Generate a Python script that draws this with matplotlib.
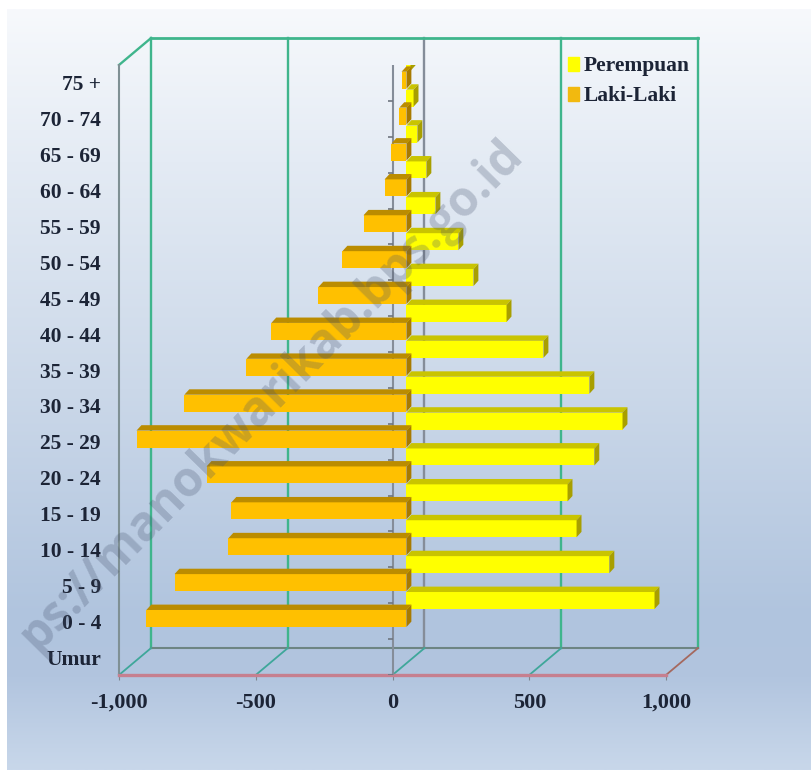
import numpy as np
import matplotlib
matplotlib.use("Agg")
import matplotlib.pyplot as plt
from matplotlib.patches import Patch

# umur dari bawah ke atas
umur = ["Umur", "0 - 4", "5 - 9", "10 - 14", "15 - 19", "20 - 24", "25 - 29", "30 - 34", "35 - 39",
        "40 - 44", "45 - 49", "50 - 54", "55 - 59", "60 - 64", "65 - 69", "70 - 74", "75 +"]
laki = [-951, -848, -651, -640, -731, -987, -812, -585, -494, -322, -234, -157, -80, -55, -26, -18]
perempuan = [907, 742, 622, 589, 687, 790, 669, 501, 366, 245, 190, 106, 73, 40, 26, 15]
x_ticks = [-1000, -500, 0, 500, 1000]
x_labels = ["-1,000", "-500", "0", "500", "1,000"]

W, H = 812, 770
FONT = "Liberation Serif"
TEKS = "#1c2436"

# kedalaman dinding belakang dan balok, dalam satuan data
WALL_X, WALL_Y = 117, 0.75
BASE_X = 51
BAR_X, BAR_Y = 18, 0.15
BAR_H = 0.474

fig = plt.figure(figsize=(W / 100, H / 100), dpi=100, facecolor="white")

# latar gradasi
bg = fig.add_axes([7 / W, 0, 1 - 7 / W, 1 - 9 / H], zorder=0)
stops_y = [0, 0.2, 0.5, 0.8, 0.88, 1]
stops_c = np.array([[247, 249, 252], [228, 235, 244], [203, 216, 233], [176, 196, 222],
                    [178, 197, 223], [200, 215, 234]]) / 255
yy = np.linspace(0, 1, 256)
grad = np.stack([np.interp(yy, stops_y, stops_c[:, c]) for c in range(3)], axis=1)[:, None, :]
bg.imshow(grad, aspect="auto", interpolation="bilinear")
bg.axis("off")

ax = fig.add_axes([119 / W, (H - 675) / H, 547 / W, 610 / H], zorder=1)
ax.patch.set_alpha(0)
ax.set_xlim(-1000, 1000)
ax.set_ylim(-0.5, 16.5)
for s in ax.spines.values():
    s.set_visible(False)

y_min, y_max = -0.5, 16.5
HIJAU = "#3fb58c"

# dinding belakang
for v in x_ticks:
    warna = "#858d99" if v == 0 else HIJAU
    ax.plot([v + WALL_X] * 2, [y_min + WALL_Y, y_max + WALL_Y], color=warna, lw=1.7, clip_on=False, zorder=1)
ax.plot([-1000 + WALL_X, 1000 + WALL_X], [y_max + WALL_Y] * 2, color=HIJAU, lw=2, clip_on=False, zorder=1)
ax.plot([-1000 + WALL_X, 1000 + WALL_X], [y_min + WALL_Y] * 2, color="#6d8583", lw=1.5, clip_on=False, zorder=1)
ax.plot([-1000, -1000 + WALL_X], [y_max, y_max + WALL_Y], color=HIJAU, lw=1.7, clip_on=False, zorder=1)
ax.plot([-1000, -1000], [y_min, y_max], color="#7f9094", lw=1.5, clip_on=False, zorder=1)

# lantai
for v in x_ticks:
    warna = "#a5695f" if v == 1000 else "#3fa79a"
    ax.plot([v, v + WALL_X], [y_min, y_min + WALL_Y], color=warna, lw=1.3, clip_on=False, zorder=1)
ax.plot([-1000, 1000], [y_min, y_min], color="#c67f8f", lw=2.4, clip_on=False, zorder=2)

# sumbu umur di nol
ax.plot([0, 0], [y_min, y_max], color="#858d99", lw=1.5, zorder=2)
ax.hlines(np.arange(17) - 0.5, -15, 0, color="#6f7680", lw=1.2, zorder=2)


def balok(y, v, muka, atas, sisi):
    # muka depan lewat barh, sisi atas dan ujung sebagai poligon
    ax.barh(y, v, left=BASE_X, height=BAR_H, color=muka, zorder=4 + 16 - y)
    a, b = sorted([BASE_X, BASE_X + v])
    top = y + BAR_H / 2
    ax.fill([a, b, b + BAR_X, a + BAR_X], [top, top, top + BAR_Y, top + BAR_Y], color=atas, lw=0, zorder=4 + 16 - y)
    ax.fill([b, b + BAR_X, b + BAR_X, b],
            [top, top + BAR_Y, top + BAR_Y - BAR_H, top - BAR_H], color=sisi, lw=0, zorder=4 + 16 - y)


for i in range(16, 0, -1):
    balok(i + 0.576, perempuan[i - 1], "#ffff00", "#c9c400", "#a89f00")
    balok(i + 0.075, laki[i - 1], "#ffc000", "#bb8c00", "#a87a00")

ax.set_xticks(x_ticks)
ax.set_xticklabels(x_labels, fontfamily=FONT, fontweight="bold", fontsize=16, color=TEKS)
ax.tick_params(axis="x", length=3.5, width=0.8, color="#7f8790", pad=9.5)
ax.set_yticks(range(len(umur)))
ax.set_yticklabels(umur, fontfamily=FONT, fontweight="bold", fontsize=15.5, color=TEKS)
ax.tick_params(axis="y", length=0, pad=13)

handles = [Patch(color="#ffff00", label="Perempuan"), Patch(color="#f2b90f", label="Laki-Laki")]
leg = fig.legend(handles=handles, loc="upper left", bbox_to_anchor=(549 / W, 1 - 37 / H), frameon=False,
                 prop={"family": FONT, "weight": "bold", "size": 15.5}, labelcolor=TEKS,
                 handlelength=0.48, handleheight=0.6, handletextpad=0.25, labelspacing=0.46, borderpad=0.4)
leg.set_zorder(20)

# watermark
fig.text(524 / W, 1 - 156 / H, "ps://manokwarikab.bps.go.id", rotation=45.5, rotation_mode="anchor",
         ha="right", va="baseline", fontsize=34.5, fontweight="bold", color="#46536e", alpha=0.27,
         family="Open Sans", zorder=30)

fig.savefig("out.png", dpi=100)
